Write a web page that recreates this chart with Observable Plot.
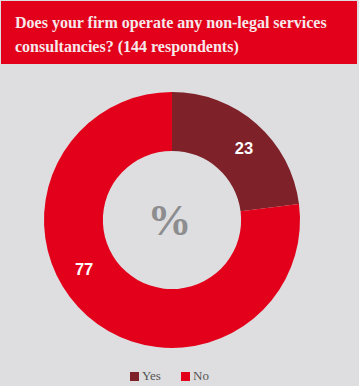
<!DOCTYPE html>
<html>
<head>
<meta charset="utf-8">
<script src="https://cdn.jsdelivr.net/npm/d3@7"></script>
<script src="https://cdn.jsdelivr.net/npm/@observablehq/plot@0.6"></script>
<style>
  html, body { margin: 0; padding: 0; background: #dedee0; }
  #wrap { position: relative; width: 359px; height: 386px; overflow: hidden; background: #dedee0; }
  #title { position: absolute; left: 1px; top: 1px; width: 356px; height: 63px; background: #e3001b;
    color: #f6e9ea; font-family: "Liberation Serif", serif; font-weight: bold; font-size: 16px;
    line-height: 24px; box-sizing: border-box; padding: 10px 0 0 14px; }
  #chart { position: absolute; left: 0; top: 64px; }
  #legend { position: absolute; left: 0; top: 369px; width: 359px; height: 14px;
    font-family: "Liberation Serif", serif; font-size: 13px; color: #555; }
  .sw { position: absolute; top: 0; display: flex; align-items: center; height: 14px; }
  .sw i { display: inline-block; width: 9px; height: 9px; margin-right: 3px; }
</style>
</head>
<body>
<div id="wrap">
  <div id="title">Does your firm operate any non-legal services consultancies? (144 respondents)</div>
  <div id="chart"></div>
  <div id="legend"></div>
</div>
<script>
const categories = ["Yes", "No"];
const values = [23, 77];
const colors = ["#7e2129", "#e3001b"];
const centerLabel = "%";

// layout settings
const W = 359, H = 300;
const cx = 172, cy = 156, R = 128;
const innerRatio = 0.54;
const labelRadius = 0.79;
const labelAngleDeg = [45, 241];
const legendLeft = [130, 181];

const pie = d3.pie().sort(null).value(d => d.value);
const data = categories.map((c, i) => ({category: c, value: values[i]}));
const arcs = pie(data);
const labels = arcs.map((a, i) => {
  const ang = labelAngleDeg[i] * Math.PI / 180;
  return {x: labelRadius * Math.sin(ang), y: labelRadius * Math.cos(ang), text: String(a.data.value)};
});

function donut(index, scales, values, dimensions, context) {
  const x0 = scales.x(0), y0 = scales.y(0);
  const r = scales.x(1) - scales.x(0);
  const arc = d3.arc().innerRadius(r * innerRatio).outerRadius(r);
  const g = d3.create("svg:g").attr("transform", `translate(${x0},${y0})`);
  g.selectAll("path").data(arcs).join("path")
    .attr("d", arc)
    .attr("fill", d => scales.color(d.data.category));
  return g.node();
}

const plot = Plot.plot({
  width: W, height: H,
  margin: 0,
  style: {background: "transparent", overflow: "visible"},
  x: {domain: [-1, 1], range: [cx - R, cx + R], axis: null},
  y: {domain: [-1, 1], range: [cy + R, cy - R], axis: null},
  color: {domain: categories, range: colors},
  marks: [
    Plot.dot(data, {x: 0, y: 0, r: 0, fill: "category"}),
    donut,
    Plot.text(labels, {x: "x", y: "y", text: "text", fill: "white", fontSize: 16.5, fontWeight: "bold", fontFamily: "Liberation Sans, sans-serif"}),
    Plot.text([centerLabel], {x: 0, y: 0, text: d => d, fill: "#8d8d8f", fontSize: 44, fontWeight: "bold", fontFamily: "Liberation Serif, serif", dx: -3, dy: 0})
  ]
});
document.getElementById("chart").appendChild(plot);

const leg = d3.select("#legend");
categories.forEach((c, i) => {
  const s = leg.append("div").attr("class", "sw").style("left", legendLeft[i] + "px");
  s.append("i").style("background", colors[i]);
  s.append("span").text(c);
});
</script>
</body>
</html>
